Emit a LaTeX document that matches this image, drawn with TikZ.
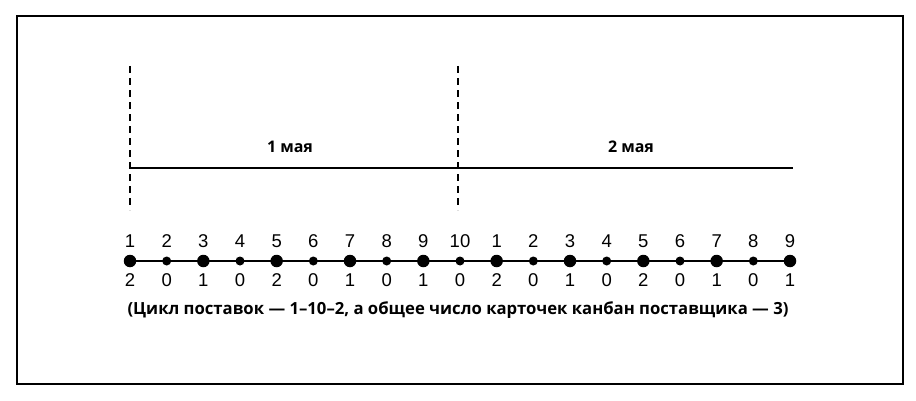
\documentclass[tikz,border=0pt]{standalone}
\usepackage{fontspec}
\setmainfont{Liberation Sans}
\newfontfamily\capfont{Open Sans}
\begin{document}
\begin{tikzpicture}[x=1pt,y=1pt,
    bigdot/.style={circle,fill,inner sep=0pt,minimum size=12.5pt},
    smalldot/.style={circle,fill,inner sep=0pt,minimum size=9pt},
    num/.style={inner sep=0pt,font=\fontsize{18.5}{18}\selectfont},
    daylabel/.style={font=\capfont\bfseries\fontsize{16}{16}\selectfont},
    notelabel/.style={font=\capfont\bfseries\fontsize{16.7}{17}\selectfont}]
      \useasboundingbox (0,0) rectangle (916,400);
      \draw[line width=2pt] (17,16) rectangle (903,384);
      % days
      \coordinate (daystart) at (130,232);
      \coordinate (dayend) at (793,232);
      \coordinate (split) at (458,232);
      \draw[line width=1.8pt,dash pattern=on 7pt off 5pt] (130,334) -- (130,190);
      \draw[line width=1.8pt,dash pattern=on 7pt off 5pt] (458,334) -- (458,190);
      \draw[line width=1.8pt] (daystart) -- (dayend);
      \node[daylabel] (may1) at (290,253) {1 мая};
      \node[daylabel] (may2) at (631,253) {2 мая};
      % time line
      \foreach \v [count=\i] in {2,0,1,0,2,0,1,0,1,0,2,0,1,0,2,0,1,0,1} {
        \pgfmathsetmacro\xx{130+36.667*(\i-1)}
        \pgfmathtruncatemacro\t{\i>10 ? \i-10 : \i}
        \ifnum\v=0 \def\dotstyle{smalldot}\else\def\dotstyle{bigdot}\fi
        \node[\dotstyle] (d\i) at (\xx,139) {};
        \node[num] (top\i) at (\xx,159) {\t};
        \node[num] (bot\i) at (\xx,120) {\v};
      }
      \draw[line width=2pt] (d1.center) -- (d19.center);
      \node[notelabel] (note) at (458,90) {(Цикл поставок — 1–10–2, а общее число карточек канбан поставщика — 3)};
\end{tikzpicture}
\end{document}
